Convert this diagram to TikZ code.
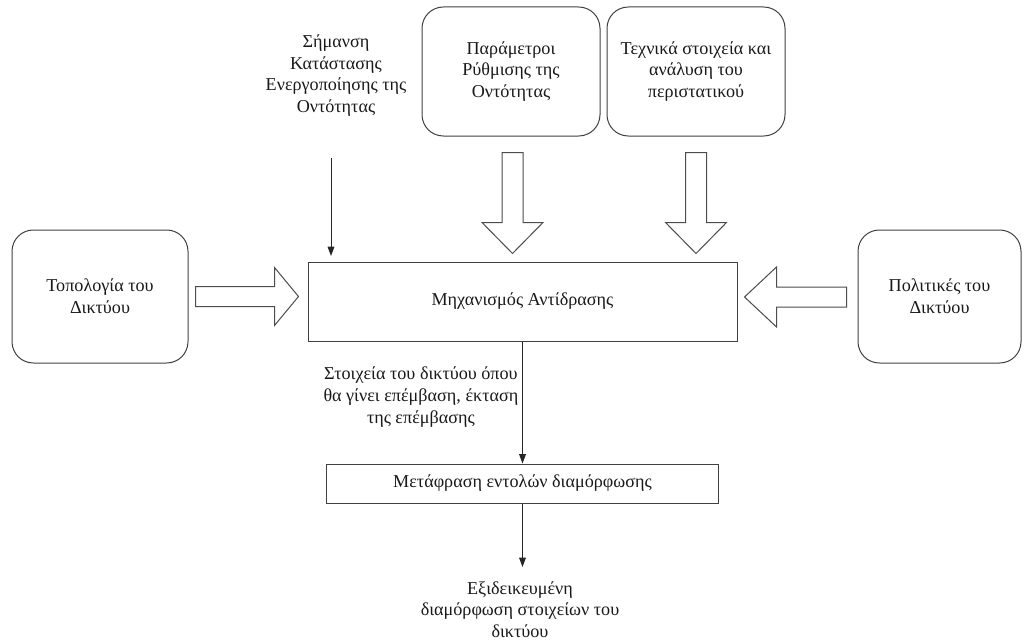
\documentclass[tikz,border=0pt]{standalone}
\usepackage{fontspec}
\setmainfont{Liberation Serif}
\usetikzlibrary{calc,arrows.meta}
\begin{document}
\begin{tikzpicture}[x=0.75pt,y=-0.75pt,
  txt/.style={font=\fontsize{13.6}{16.3}\selectfont, align=center, text=black!90},
  rbox/.style={txt, draw=black!75, line width=0.75pt, rounded corners=16pt, inner sep=0pt},
  sbox/.style={txt, draw=black!75, line width=0.75pt, inner sep=0pt},
  fat/.style={draw=black!70, line width=0.75pt, fill=white, line join=miter},
  thin/.style={draw=black!85, line width=0.75pt, -{Triangle[length=7pt,width=5pt]}}]
\useasboundingbox (0,0) rectangle (1025,642);

% boxes
\node[rbox, minimum width=132pt, minimum height=99.75pt] (topo) at (100,296.5) {Τοπολογία του\\Δικτύου};
\node[rbox, minimum width=122.25pt, minimum height=99.75pt] (pol) at (939.5,296.5) {Πολιτικές του\\Δικτύου};
\node[rbox, minimum width=133.5pt, minimum height=96.75pt] (param) at (511,71.5) {Παράμετροι\\Ρύθμισης της\\Οντότητας};
\node[rbox, minimum width=133.5pt, minimum height=96.75pt] (tech) at (696,71.5) {Τεχνικά στοιχεία και\\ανάλυση του\\περιστατικού};
\node[sbox, minimum width=321.75pt, minimum height=59.25pt] (mech) at (522.5,301.5) {Μηχανισμός Αντίδρασης};
\node[sbox, minimum width=294pt, minimum height=29.25pt] (conf) at (522.5,483.5) {Μετάφραση εντολών διαμόρφωσης};

% free text
\node[txt] (sig) at (336,75.5) {Σήμανση\\Κατάστασης\\Ενεργοποίησης της\\Οντότητας};
\node[txt, anchor=east] (elem) at (523,397) {Στοιχεία του δικτύου όπου\\θα γίνει επέμβαση, έκταση\\της επέμβασης};
\node[txt] (out) at (520,609.5) {Εξιδεικευμένη\\διαμόρφωση στοιχείων του\\δικτύου};

% thin arrows
\coordinate (sigtop) at (331,158);
\coordinate (sigend) at (331,256);
\draw[thin] (sigtop) -- (sigend);
\draw[thin] (mech.south) -- (conf.north);
\coordinate (outend) at (522.5,567);
\draw[thin] (conf.south) -- (outend);

% block arrows
\coordinate (la) at ($(topo.east)+(7,0)$);
\draw[fat, shift={(la)}] (0,-10) -- (79,-10) -- (79,-29) -- (103,0) -- (79,29) -- (79,10) -- (0,10) -- cycle;
\coordinate (ra) at ($(pol.west)+(-11,0.5)$);
\draw[fat, shift={(ra)}] (0,-10) -- (-70,-10) -- (-70,-30) -- (-102,0) -- (-70,30) -- (-70,10) -- (0,10) -- cycle;
\coordinate (pa) at ($(param.south)+(1.5,16)$);
\draw[fat, shift={(pa)}] (-10.5,0) -- (-10.5,70) -- (-30.5,70) -- (0,101) -- (30.5,70) -- (10.5,70) -- (10.5,0) -- cycle;
\coordinate (ta) at ($(tech.south)+(0,16)$);
\draw[fat, shift={(ta)}] (-10.5,0) -- (-10.5,70) -- (-30.5,70) -- (0,101) -- (30.5,70) -- (10.5,70) -- (10.5,0) -- cycle;
\end{tikzpicture}
\end{document}
